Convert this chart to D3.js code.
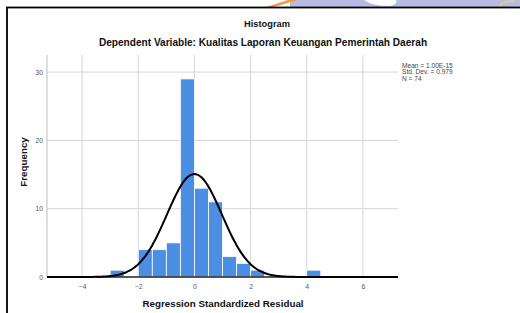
<!DOCTYPE html>
<html><head><meta charset="utf-8">
<script src="https://cdn.jsdelivr.net/npm/d3@7/dist/d3.min.js"></script>
<style>html,body{margin:0;padding:0;background:#fff;overflow:hidden}svg{display:block;font-family:"Liberation Sans",Arial,sans-serif}</style>
</head><body>
<script>
const binStarts = [-3.0, -2.0, -1.5, -1.0, -0.5, 0.0, 0.5, 1.0, 1.5, 2.0, 4.0];
const binCounts = [1, 4, 4, 5, 29, 13, 11, 3, 2, 1, 1];
const binWidth = 0.5;
const xTicks = [-4, -2, 0, 2, 4, 6];
const yTicks = [0, 10, 20, 30];
const statMean = 1.00e-15, statSD = 0.979, statN = 74;
const statLabels = ["Mean = 1.00E-15", "Std. Dev. = 0.979", "N = 74"];

(function () {
const W = 520, H = 313;
const svg = d3.select("body").append("svg").attr("width", W).attr("height", H);

// watermark strip above frame
const wm = svg.append("g");
wm.append("rect").attr("x", 290).attr("y", 0).attr("width", 230).attr("height", 7).attr("fill", "#b7bbe3");
wm.append("path").attr("d", "M266,7 L274,7 L298,0 L288,0 Z").attr("fill", "#f39a4a");
wm.append("path").attr("d", "M364,0 Q372,6 390,6 Q398,4 396,0 Z").attr("fill", "#ffffff");
wm.append("path").attr("d", "M500,6 Q502,1 515,1").attr("fill", "none").attr("stroke", "#e8d46a").attr("stroke-width", 1.5);

// frame
svg.append("rect").attr("x", 7).attr("y", 7.5).attr("width", 530).attr("height", 330)
  .attr("fill", "#fff").attr("stroke", "#000").attr("stroke-width", 1.8);

const pL = 47, pR = 398, pT = 55, pB = 277;
const x = d3.scaleLinear().domain([-5.25, 7.25]).range([pL, pR]);
const y = d3.scaleLinear().domain([0, 32.5]).range([pB, pT]);

// gridlines
const g = svg.append("g");
g.selectAll("line.vg").data(xTicks).enter().append("line")
  .attr("x1", d => x(d)).attr("x2", d => x(d)).attr("y1", pT).attr("y2", pB)
  .attr("stroke", "#d6d6d6").attr("stroke-width", 1);
g.selectAll("line.hg").data(yTicks.filter(d => d > 0)).enter().append("line")
  .attr("x1", pL).attr("x2", pR).attr("y1", d => y(d)).attr("y2", d => y(d))
  .attr("stroke", "#d6d6d6").attr("stroke-width", 1);
g.append("line").attr("x1", pL).attr("x2", pL).attr("y1", pT).attr("y2", pB)
  .attr("stroke", "#bdbdbd").attr("stroke-width", 1);

// bars
svg.append("g").selectAll("rect").data(binStarts).enter().append("rect")
  .attr("x", d => x(d)).attr("width", d => x(d + binWidth) - x(d))
  .attr("y", (d, i) => y(binCounts[i])).attr("height", (d, i) => y(0) - y(binCounts[i]))
  .attr("fill", "#4a8fe3").attr("stroke", "#ffffff").attr("stroke-width", 0.8);

// baseline
svg.append("line").attr("x1", pL).attr("x2", pR).attr("y1", y(0)).attr("y2", y(0))
  .attr("stroke", "#222").attr("stroke-width", 1.3);

// normal curve
const scaleF = statN * binWidth;
const pts = d3.range(-5.25, 7.2501, 0.05).map(v => [v, scaleF * Math.exp(-0.5 * Math.pow((v - statMean) / statSD, 2)) / (statSD * Math.sqrt(2 * Math.PI))]);
svg.append("path").datum(pts)
  .attr("d", d3.line().x(d => x(d[0])).y(d => y(d[1])).curve(d3.curveBasis))
  .attr("fill", "none").attr("stroke", "#000").attr("stroke-width", 2);

// axes tick labels
const xAxis = d3.axisBottom(x).tickValues(xTicks).tickSize(0).tickPadding(7).tickFormat(d3.format("d"));
const xg = svg.append("g").attr("transform", `translate(0,${pB})`).call(xAxis);
xg.select(".domain").remove();
xg.selectAll("text").attr("font-size", 6.8).attr("fill", "#555").attr("font-family", "Liberation Sans, Arial, sans-serif");
const yAxis = d3.axisLeft(y).tickValues(yTicks).tickSize(0).tickPadding(4).tickFormat(d3.format("d"));
const yg = svg.append("g").attr("transform", `translate(${pL},0)`).call(yAxis);
yg.select(".domain").remove();
yg.selectAll("text").attr("font-size", 6.8).attr("fill", "#555").attr("font-family", "Liberation Sans, Arial, sans-serif");

// titles
svg.append("text").attr("x", 267).attr("y", 27).attr("text-anchor", "middle")
  .attr("font-size", 9.3).attr("font-weight", "bold").attr("fill", "#111").text("Histogram");
svg.append("text").attr("x", 263).attr("y", 45.5).attr("text-anchor", "middle")
  .attr("font-size", 10.1).attr("font-weight", "bold").attr("fill", "#111")
  .text("Dependent Variable: Kualitas Laporan Keuangan Pemerintah Daerah");
svg.append("text").attr("x", 223).attr("y", 306.5).attr("text-anchor", "middle")
  .attr("font-size", 9.8).attr("font-weight", "bold").attr("fill", "#111")
  .text("Regression Standardized Residual");
svg.append("text").attr("transform", "translate(26.5,162) rotate(-90)").attr("text-anchor", "middle")
  .attr("font-size", 9.8).attr("font-weight", "bold").attr("fill", "#111").text("Frequency");

// stats
svg.append("g").selectAll("text").data(statLabels).enter().append("text")
  .attr("x", 402).attr("y", (d, i) => 68 + i * 6.3)
  .attr("font-size", 6.6).attr("fill", "#444").text(d => d);
})();
</script>
</body></html>
